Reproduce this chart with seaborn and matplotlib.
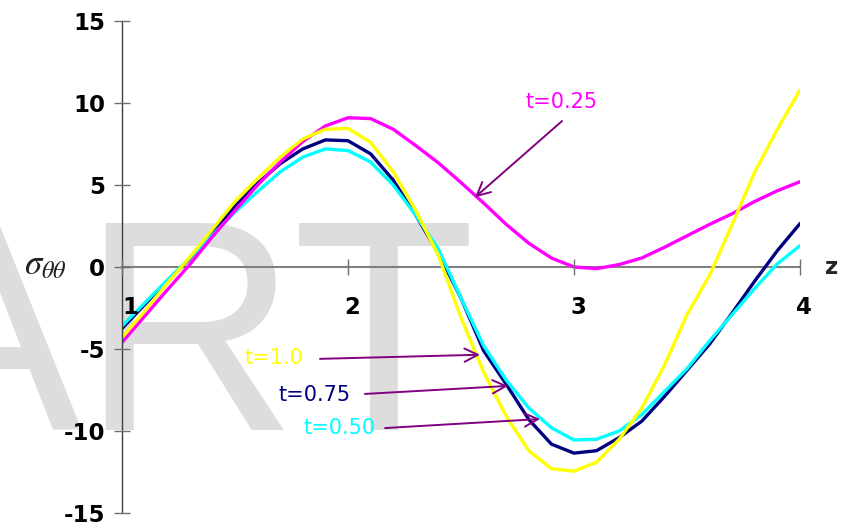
import numpy as np
import pandas as pd
import matplotlib
matplotlib.use('Agg')
import matplotlib.pyplot as plt
import matplotlib.transforms as mtransforms
import seaborn as sns

# z positions along the axis
z = [1.0, 1.1, 1.2, 1.3, 1.4, 1.5, 1.6, 1.7, 1.8, 1.9, 2.0,
     2.1, 2.2, 2.3, 2.4, 2.5, 2.6, 2.7, 2.8, 2.9, 3.0,
     3.1, 3.2, 3.3, 3.4, 3.5, 3.6, 3.7, 3.8, 3.9, 4.0]

# sigma_theta_theta for each time
s_025 = [-4.6, -3.0, -1.4, 0.15, 1.85, 3.45, 5.0, 6.4, 7.65, 8.6, 9.1,
         9.05, 8.4, 7.4, 6.35, 5.15, 3.9, 2.6, 1.45, 0.55, 0.0,
         -0.1, 0.15, 0.55, 1.2, 1.9, 2.6, 3.25, 4.0, 4.65, 5.2]
s_050 = [-3.6, -2.2, -0.8, 0.55, 1.95, 3.35, 4.6, 5.8, 6.7, 7.2, 7.1,
         6.4, 5.0, 3.15, 1.1, -1.9, -4.8, -6.9, -8.6, -9.8, -10.55,
         -10.5, -10.0, -9.0, -7.6, -6.2, -4.5, -2.9, -1.3, 0.2, 1.3]
s_075 = [-3.75, -2.3, -0.85, 0.5, 2.1, 3.7, 5.1, 6.3, 7.2, 7.75, 7.7,
         6.9, 5.3, 3.15, 0.85, -1.9, -5.1, -7.15, -9.3, -10.8, -11.35,
         -11.2, -10.4, -9.4, -7.9, -6.3, -4.7, -2.8, -0.85, 1.0, 2.65]
s_100 = [-4.3, -2.7, -1.0, 0.6, 2.3, 4.0, 5.4, 6.7, 7.8, 8.4, 8.45,
         7.6, 5.8, 3.45, 0.7, -3.1, -6.4, -9.1, -11.2, -12.3, -12.45,
         -11.9, -10.5, -8.6, -6.0, -2.9, -0.5, 2.6, 5.8, 8.4, 10.8]

t_labels = ['t=0.75', 't=0.50', 't=0.25', 't=1.0']
colors = {'t=0.25': '#ff00ff', 't=0.50': '#00ffff',
          't=0.75': '#000080', 't=1.0': '#ffff00'}

# label text position, arrow tail, arrow head (data units)
notes = {
    't=0.25': ((2.943, 10.06), (2.947, 8.9), (2.562, 4.25)),
    't=1.0': ((1.673, -5.54), (1.876, -5.6), (2.584, -5.35)),
    't=0.75': ((1.852, -7.8), (2.075, -7.74), (2.708, -7.25)),
    't=0.50': ((1.962, -9.82), (2.164, -9.82), (2.85, -9.27)),
}

series = {'t=0.25': s_025, 't=0.50': s_050, 't=0.75': s_075, 't=1.0': s_100}
df = pd.concat([pd.DataFrame({'z': z, 's': series[t], 't': t}) for t in t_labels])

sns.set_style('white')
plt.rcParams['mathtext.fontset'] = 'stix'
plt.rcParams['axes.unicode_minus'] = False

fig = plt.figure(figsize=(8.51, 5.24), dpi=100)

# watermark in a background axes
bg = fig.add_axes([0, 0, 1, 1])
bg.set_axis_off()
bg.text(-119 / 851, 94 / 524, 'ART', fontsize=216, color='#dddddd',
        family='Liberation Sans', va='baseline', ha='left')

ax = fig.add_axes([122 / 851, 11 / 524, 678 / 851, 492 / 524])
ax.patch.set_alpha(0)

sns.lineplot(data=df, x='z', y='s', hue='t', hue_order=t_labels,
             palette=colors, legend=False, lw=2.4, sort=False, ax=ax)

ax.set_xlim(1, 4)
ax.set_ylim(-15, 15)
ax.set_xticks([1, 2, 3, 4])
ax.set_yticks([-15, -10, -5, 0, 5, 10, 15])
ax.set_xlabel('')
ax.set_ylabel('')
ax.set_axisbelow(False)  # tick labels over the curves

for sp in ['top', 'right']:
    ax.spines[sp].set_visible(False)
ax.spines['bottom'].set_position(('data', 0))
ax.spines['bottom'].set_color('#808080')
ax.spines['bottom'].set_linewidth(1.5)
ax.spines['bottom'].set_zorder(1.5)
ax.spines['left'].set_color('#404040')
ax.spines['left'].set_linewidth(1.0)

ax.tick_params(axis='both', direction='inout', length=12, width=1.0,
               color='#707070', labelsize=16.5, labelcolor='black',
               left=True, bottom=True)
ax.tick_params(axis='x', pad=15)
ax.tick_params(axis='y', pad=6)
for lab in ax.get_xticklabels() + ax.get_yticklabels():
    lab.set_fontweight('bold')
# nudge the x labels a little right, as in the original
for i, lab in enumerate(ax.get_xticklabels()):
    dx = 8 if i == 0 else 4
    lab.set_transform(lab.get_transform() +
                      mtransforms.ScaledTranslation(dx / 100, 0, fig.dpi_scale_trans))

ax.text(4.14, 0, 'z', fontsize=16.5, fontweight='bold', va='center',
        ha='center', clip_on=False)
ax.text(0.66, 0.2, r'$\sigma_{\theta\theta}$', fontsize=25, va='center',
        ha='center', color='#222222', clip_on=False)

for t, (txt, tail, head) in notes.items():
    ax.text(txt[0], txt[1], t, color=colors[t], fontsize=15,
            ha='center', va='center')
    ax.annotate('', xy=head, xytext=tail,
                arrowprops=dict(arrowstyle='->', color='#800080', lw=1.4,
                                mutation_scale=24, shrinkA=0, shrinkB=0))

fig.savefig('out.png', dpi=100)
